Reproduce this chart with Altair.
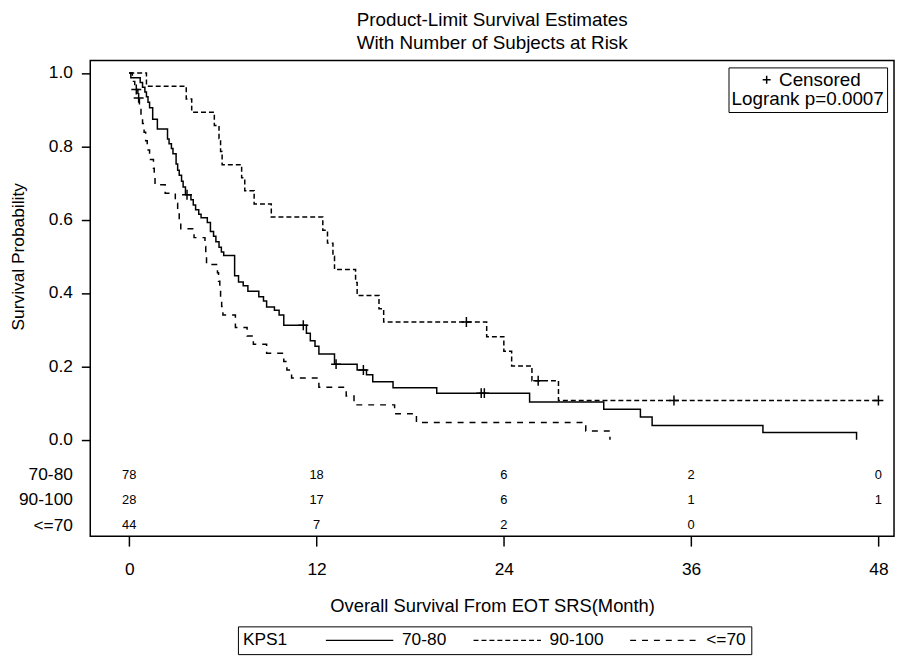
import altair as alt
import pandas as pd

FONT = "Liberation Sans"

GROUPS = ["70-80", "90-100", "<=70"]

# Kaplan-Meier step points (time in months, survival probability)
T_7080 = [0, 0.1, 0.7, 0.85, 1.0, 1.1, 1.2, 1.3, 1.5, 1.8, 2.45, 2.55, 2.7, 2.8, 3.0, 3.1, 3.2, 3.35,
          3.45, 3.6, 3.95, 4.1, 4.25, 4.45, 4.6, 5.0, 5.2, 5.4, 5.55, 5.75, 5.9, 6.05, 6.75, 7.0, 7.3,
          7.6, 8.3, 8.6, 8.8, 9.3, 9.6, 9.9, 11.35, 11.6, 11.9, 12.15, 13.15, 14.6, 15.2, 15.6, 16.9,
          19.7, 25.65, 30.4, 32.75, 33.5, 40.6, 46.6]
S_7080 = [1.0, 0.987, 0.974, 0.961, 0.948, 0.935, 0.92, 0.905, 0.874, 0.847, 0.82, 0.807, 0.794, 0.78,
          0.752, 0.735, 0.721, 0.705, 0.689, 0.668, 0.654, 0.64, 0.627, 0.615, 0.605, 0.592, 0.568,
          0.555, 0.54, 0.525, 0.512, 0.502, 0.447, 0.43, 0.42, 0.405, 0.39, 0.378, 0.362, 0.353, 0.34,
          0.312, 0.29, 0.27, 0.255, 0.234, 0.206, 0.19, 0.177, 0.158, 0.142, 0.127, 0.103, 0.083,
          0.062, 0.039, 0.02, 0.0]

T_90100 = [0, 1.1, 3.65, 4.0, 5.45, 5.75, 5.85, 5.95, 7.2, 7.4, 8.0, 9.1, 12.4, 12.7, 13.05, 13.15,
           14.5, 14.6, 16.0, 16.3, 22.9, 24.0, 24.5, 25.8, 27.5, 48.1]
S_90100 = [1.0, 0.964, 0.929, 0.893, 0.857, 0.821, 0.786, 0.75, 0.714, 0.679, 0.643, 0.607, 0.571,
           0.536, 0.5, 0.464, 0.429, 0.393, 0.357, 0.321, 0.281, 0.241, 0.201, 0.161, 0.107, 0.107]

T_LE70 = [0, 0.2, 0.35, 0.55, 0.65, 0.75, 0.85, 0.95, 1.05, 1.15, 1.3, 1.55, 1.6, 1.65, 2.3, 2.95,
          3.1, 3.2, 3.3, 4.15, 4.85, 4.9, 4.95, 5.65, 5.72, 5.8, 5.85, 5.92, 6.0, 6.8, 7.55, 7.95,
          8.8, 9.9, 10.1, 10.4, 12.15, 13.9, 14.4, 17.0, 18.4, 29.25, 30.8]
S_LE70 = [1.0, 0.977, 0.955, 0.932, 0.909, 0.886, 0.862, 0.838, 0.815, 0.79, 0.764, 0.74, 0.718,
          0.695, 0.672, 0.645, 0.62, 0.598, 0.575, 0.551, 0.527, 0.503, 0.478, 0.455, 0.432, 0.409,
          0.386, 0.363, 0.34, 0.306, 0.283, 0.26, 0.236, 0.213, 0.19, 0.168, 0.143, 0.119, 0.095,
          0.071, 0.047, 0.024, 0.0]

# Censored observations
CT_7080 = [3.7, 11.15, 13.25, 15.0, 22.55, 22.75]
CS_7080 = [0.668, 0.312, 0.206, 0.19, 0.127, 0.127]
CT_90100 = [21.6, 26.2, 34.9, 48.0]
CS_90100 = [0.321, 0.161, 0.107, 0.107]
CT_LE70 = [0.45, 0.6]
CS_LE70 = [0.955, 0.932]

# Number at risk
RISK_TIMES = [0, 12, 24, 36, 48]
RISK_7080 = [78, 18, 6, 2, 0]
RISK_90100 = [28, 17, 6, 1, 1]
RISK_LE70 = [44, 7, 2, 0]

# layout: vertical position (in survival units) of each at-risk row
ROW_Y = [-0.095, -0.164, -0.233]

curves = []
for g, ts, ss in zip(GROUPS, [T_7080, T_90100, T_LE70], [S_7080, S_90100, S_LE70]):
    for i, (t, s) in enumerate(zip(ts, ss)):
        curves.append({"group": g, "time": t, "surv": s, "ord": i})
curves = pd.DataFrame(curves)

cens = []
for g, ts, ss in zip(GROUPS, [CT_7080, CT_90100, CT_LE70], [CS_7080, CS_90100, CS_LE70]):
    for t, s in zip(ts, ss):
        cens.append({"group": g, "time": t, "surv": s, "kind": "Censored"})
cens = pd.DataFrame(cens)

risk = []
for g, ry, ns in zip(GROUPS, ROW_Y, [RISK_7080, RISK_90100, RISK_LE70]):
    for t, n in zip(RISK_TIMES, ns):
        risk.append({"group": g, "time": t, "surv": ry, "n": str(n)})
risk = pd.DataFrame(risk)

label_expr = "format(datum.value, '.1f')"
for g, ry in zip(GROUPS, ROW_Y):
    label_expr = f"abs(datum.value - ({ry})) < 0.01 ? '{g}' : " + label_expr

x_scale = alt.Scale(domain=[-2.5, 49.0], nice=False, zero=False)
y_scale = alt.Scale(domain=[-0.263, 1.034], nice=False, zero=False)

FS = 17.5
TFS = 19

x_axis = alt.Axis(values=RISK_TIMES, tickSize=10, tickWidth=1.5, tickColor="black",
                  labelPadding=15, labelFontSize=FS, labelFont=FONT, labelColor="black",
                  labelFlush=False, domain=False, grid=False,
                  title="Overall Survival From EOT SRS(Month)", titleFontSize=18.5,
                  titleFont=FONT, titleFontWeight="normal", titleColor="black", titleY=61)

y_axis = alt.Axis(values=ROW_Y + [0, 0.2, 0.4, 0.6, 0.8, 1.0], labelExpr=label_expr,
                  tickSize=9, tickWidth=1.5,
                  tickColor={"condition": {"test": "datum.value < 0", "value": "transparent"},
                             "value": "black"},
                  labelPadding=9, labelFontSize=FS, labelFont=FONT, labelColor="black",
                  labelOverlap=False, labelFlush=False, domain=False, grid=False,
                  title="Survival Probability", titleFontSize=FS, titleFont=FONT,
                  titleFontWeight="normal", titleColor="black", titleX=-63, titleY=197.6)

DASH_SYMBOL = "M-1,0H16"
CROSS = "M-1,0H1M0,-1V1"

dash_legend = alt.Legend(orient="none", legendX=149, legendY=571, direction="horizontal",
                         title="KPS1", titleOrient="left", titleFontSize=FS, titleFont=FONT,
                         titleFontWeight="normal", titleColor="black", titlePadding=34,
                         titleBaseline="middle",
                         labelFontSize=FS, labelFont=FONT, labelColor="black",
                         symbolType=DASH_SYMBOL, symbolSize=64, symbolStrokeWidth=1.4,
                         symbolStrokeColor="black", symbolFillColor="transparent",
                         labelOffset=64, columnPadding=22, strokeColor="black", padding=5)

cens_legend = alt.Legend(orient="none", legendX=644, legendY=7, title="Logrank p=0.0007",
                         titleOrient="bottom", titleFontSize=TFS, titleFont=FONT,
                         titleFontWeight="normal", titleColor="black", titlePadding=0,
                         labelFontSize=TFS, labelFont=FONT, labelColor="black",
                         symbolType=CROSS, symbolSize=64, symbolStrokeWidth=1.5,
                         symbolStrokeColor="black", symbolFillColor="transparent",
                         symbolOffset=26, labelOffset=3, strokeColor="black", padding=3)

lines = alt.Chart(curves).mark_line(interpolate="step-after", color="black", strokeWidth=1.5).encode(
    x=alt.X("time:Q", scale=x_scale, axis=x_axis),
    y=alt.Y("surv:Q", scale=y_scale, axis=y_axis),
    strokeDash=alt.StrokeDash("group:N",
                              scale=alt.Scale(domain=GROUPS, range=[[1, 0], [5, 3], [6, 6]]),
                              legend=dash_legend, sort=GROUPS),
    order="ord:Q",
)

marks = alt.Chart(cens).mark_point(filled=False, color="black", strokeWidth=1.5, size=100,
                                   opacity=1).encode(
    x=alt.X("time:Q", scale=x_scale),
    y=alt.Y("surv:Q", scale=y_scale),
    shape=alt.Shape("kind:N", scale=alt.Scale(domain=["Censored"], range=[CROSS]),
                    legend=cens_legend),
)

table = alt.Chart(risk).mark_text(fontSize=13, font=FONT, color="black").encode(
    x=alt.X("time:Q", scale=x_scale),
    y=alt.Y("surv:Q", scale=y_scale),
    text="n:N",
)

chart = alt.layer(lines, marks, table).properties(
    width=811, height=480,
    autosize=alt.AutoSizeParams(type="none"),
    padding={"left": 83, "top": 50, "right": 2, "bottom": 124},
    title=alt.TitleParams(["Product-Limit Survival Estimates", "With Number of Subjects at Risk"],
                          fontSize=TFS, fontWeight="normal", font=FONT, color="black",
                          anchor="middle", offset=8, lineHeight=23),
).configure(font=FONT, background="white",
            view=alt.ViewConfig(stroke="black", strokeWidth=1.5))

chart.save("out.html", embed_options={"renderer": "svg", "actions": False})
